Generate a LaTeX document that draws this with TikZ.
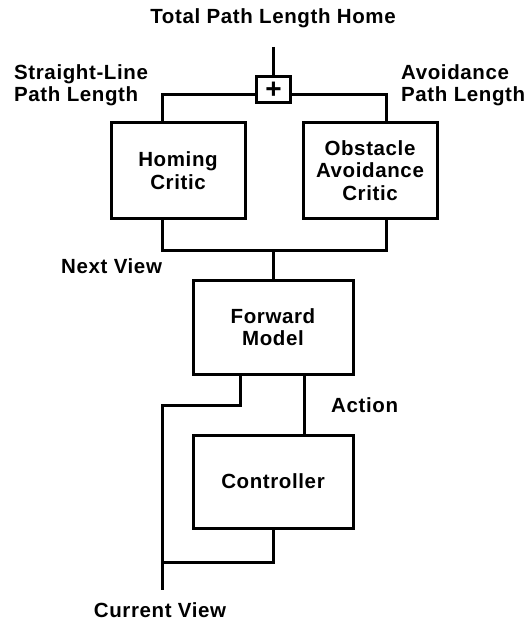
\documentclass[tikz,border=0pt]{standalone}
\usepackage{fontspec}
\setmainfont[LetterSpace=3]{Liberation Sans}
\begin{document}
\begin{tikzpicture}[x=1pt,y=-1pt,
  every node/.style={font=\bfseries\fontsize{20.5}{22.5}\selectfont},
  blk/.style={draw,line width=3pt,align=center,inner sep=0pt},
  lbl/.style={inner sep=0pt,align=left},
  wire/.style={line width=3pt}]
\useasboundingbox (0,0) rectangle (528,628);
% blocks
\node[blk,minimum width=134pt,minimum height=95pt] (homing) at (178,170.5) {Homing\\Critic};
\node[blk,minimum width=134pt,minimum height=95pt] (obst) at (370,170.5) {Obstacle\\Avoidance\\Critic};
\node[blk,minimum width=160pt,minimum height=94pt] (fwd) at (273,327) {Forward\\Model};
\node[blk,minimum width=160pt,minimum height=93pt] (ctrl) at (273,481.5) {Controller};
\node[blk,minimum width=34pt,minimum height=26pt,font=\bfseries\fontsize{28}{28}\selectfont] (plus) at (273.5,90) {+};
% labels
\node[lbl] (title) at (273,18) {Total Path Length Home};
\node[lbl,anchor=west] (sl) at (14,85) {Straight-Line\\Path Length};
\node[lbl,anchor=west] (al) at (401,85) {Avoidance\\Path Length};
\node[lbl,anchor=west] (nv) at (61,266) {Next View};
\node[lbl,anchor=west] (act) at (331,405) {Action};
\node[lbl] (cv) at (160,610) {Current View};
% coordinates
\coordinate (top) at (273.5,47);
\coordinate (join) at (273,250);
\coordinate (cvend) at (162,590);
% connectors
\draw[wire] (top) -- (plus.north);
\draw[wire] ([xshift=-16pt]homing.north) |- ([yshift=-5pt]plus.west);
\draw[wire] ([xshift=16pt]obst.north) |- ([yshift=-5pt]plus.east);
\draw[wire] ([xshift=-16pt]homing.south) |- (join) -| ([xshift=16pt]obst.south);
\draw[wire] (join) -- (fwd.north);
\draw[wire] ([xshift=-33pt]fwd.south) |- (162,405) -- (cvend);
\draw[wire] ([xshift=31pt]fwd.south) -- ([xshift=31pt]ctrl.north);
\draw[wire] (ctrl.south) |- (162,562);
\end{tikzpicture}
\end{document}
